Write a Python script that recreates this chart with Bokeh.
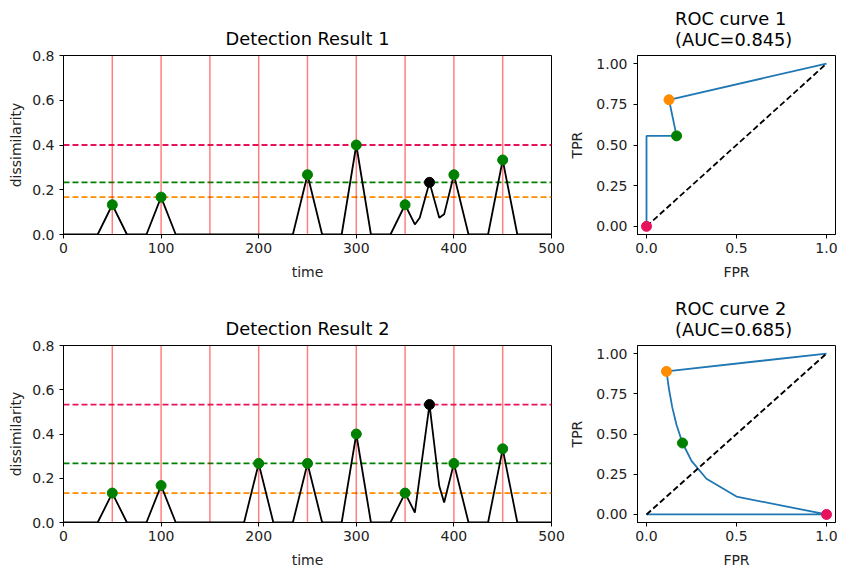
from bokeh.plotting import figure
from bokeh.layouts import column, row
from bokeh.models import Range1d, FixedTicker, PrintfTickFormatter, Span
from bokeh.embed import file_html
from bokeh.resources import INLINE

# ---------------- data ----------------
change_points = [50, 100, 150, 200, 250, 300, 350, 400, 450]

t1 = [0, 35, 50, 65, 85, 100, 115, 235, 250, 265, 285, 300, 315, 335, 350, 360, 365, 375, 385, 390, 400, 415, 435, 450, 465, 500]
v1 = [0, 0, 0.133, 0, 0, 0.167, 0, 0, 0.267, 0, 0, 0.4, 0, 0, 0.133, 0.045, 0.075, 0.233, 0.075, 0.09, 0.267, 0, 0, 0.333, 0, 0]
hit1_t = [50, 100, 250, 300, 350, 400, 450]
hit1_v = [0.133, 0.167, 0.267, 0.4, 0.133, 0.267, 0.333]
miss1_t = [375]
miss1_v = [0.233]
thr1 = [0.4, 0.233, 0.167]  # pink, green, orange

t2 = [0, 35, 50, 65, 85, 100, 115, 185, 200, 215, 235, 250, 265, 285, 300, 315, 335, 350, 360, 375, 385, 390, 400, 415, 435, 450, 465, 500]
v2 = [0, 0, 0.133, 0, 0, 0.167, 0, 0, 0.267, 0, 0, 0.267, 0, 0, 0.4, 0, 0, 0.133, 0.045, 0.533, 0.165, 0.09, 0.267, 0, 0, 0.333, 0, 0]
hit2_t = [50, 100, 200, 250, 300, 350, 400, 450]
hit2_v = [0.133, 0.167, 0.267, 0.267, 0.4, 0.133, 0.267, 0.333]
miss2_t = [375]
miss2_v = [0.533]
thr2 = [0.533, 0.267, 0.133]

roc1_fpr = [0, 0, 0.167, 0.125, 1]
roc1_tpr = [0, 0.556, 0.556, 0.778, 1]
roc1_pts_fpr = [0, 0.167, 0.125]   # pink, green, orange
roc1_pts_tpr = [0, 0.556, 0.778]
auc1 = 0.845

roc2_fpr = [0, 1, 0.5, 0.333, 0.25, 0.2, 0.167, 0.143, 0.125, 0.111, 1]
roc2_tpr = [0, 0, 0.111, 0.222, 0.333, 0.444, 0.556, 0.667, 0.778, 0.889, 1]
roc2_pts_fpr = [1, 0.2, 0.111]
roc2_pts_tpr = [0, 0.444, 0.889]
auc2 = 0.685

diag = [0, 1]

time_ticks = [0, 100, 200, 300, 400, 500]
dis_ticks = [0, 0.2, 0.4, 0.6, 0.8]
fpr_ticks = [0, 0.5, 1.0]
tpr_ticks = [0, 0.25, 0.5, 0.75, 1.0]

T_MIN, T_MAX = 0, 500
D_MIN, D_MAX = 0, 0.8

PINK = "#e8125c"
GREEN = "#008000"
ORANGE = "#ff8c00"
BLUE = "#1f77b4"
THR_COLORS = [PINK, GREEN, ORANGE]
FONT = "DejaVu Sans"
DASH = "6 3"


def style(p, xticks, yticks, xfmt, yfmt, xlabel, ylabel, ylab_standoff,
          ytick_standoff, title_standoff):
    p.xgrid.visible = False
    p.ygrid.visible = False
    p.outline_line_color = "black"
    p.outline_line_alpha = 1
    p.outline_line_width = 1
    p.title.text_font = FONT
    p.title.text_font_size = "17.8px"
    p.title.text_font_style = "normal"
    p.title.align = "center"
    p.title.text_color = "black"
    p.title.standoff = title_standoff
    p.title.text_line_height = 1.0
    p.xaxis.ticker = FixedTicker(ticks=xticks)
    p.yaxis.ticker = FixedTicker(ticks=yticks)
    p.xaxis.formatter = PrintfTickFormatter(format=xfmt)
    p.yaxis.formatter = PrintfTickFormatter(format=yfmt)
    p.xaxis.axis_label = xlabel
    p.yaxis.axis_label = ylabel
    for ax in (p.xaxis, p.yaxis):
        ax.axis_line_color = "black"
        ax.major_tick_line_color = "black"
        ax.major_tick_in = 0
        ax.major_tick_out = 4
        ax.minor_tick_line_color = None
        ax.major_label_text_font = FONT
        ax.major_label_text_font_size = "14px"
        ax.major_label_text_color = "#222222"
        ax.axis_label_text_font = FONT
        ax.axis_label_text_font_size = "14px"
        ax.axis_label_text_font_style = "normal"
        ax.axis_label_text_color = "#222222"
        ax.major_label_standoff = 4
    p.yaxis.major_label_standoff = ytick_standoff
    p.xaxis.axis_label_standoff = 8
    p.yaxis.axis_label_standoff = ylab_standoff


def detection(title, t, v, hit_t, hit_v, miss_t, miss_v, thr, height, top, bottom):
    p = figure(width=566, height=height, title=title, output_backend="svg",
               toolbar_location=None, x_range=Range1d(T_MIN, T_MAX),
               y_range=Range1d(D_MIN, D_MAX), min_border_left=63,
               min_border_right=15, min_border_top=top, min_border_bottom=bottom)
    style(p, time_ticks, dis_ticks, "%d", "%.1f", "time", "dissimilarity", 5, 5, 14)
    for val, col in zip(thr, THR_COLORS):
        p.add_layout(Span(location=val, dimension="width", line_color=col,
                          line_dash=DASH, line_width=1.8, level="underlay"))
    p.segment(x0=change_points, y0=[D_MIN] * len(change_points),
              x1=change_points, y1=[D_MAX] * len(change_points),
              line_color="red", line_alpha=0.5, line_width=1.5)
    p.line(t, v, line_color="black", line_width=1.8)
    p.scatter(hit_t, hit_v, size=10, fill_color=GREEN, line_color=GREEN)
    p.scatter(miss_t, miss_v, size=10, fill_color="black", line_color="black")
    return p


def roc(title, fpr, tpr, pf, pt, height, top, bottom):
    p = figure(width=276, height=height, title=title, output_backend="svg",
               toolbar_location=None, x_range=Range1d(-0.05, 1.05),
               y_range=Range1d(-0.05, 1.05), min_border_left=70,
               min_border_right=7, min_border_top=top, min_border_bottom=bottom)
    style(p, fpr_ticks, tpr_ticks, "%.1f", "%.2f", "FPR", "TPR", 8, 6, 11)
    p.line(fpr, tpr, line_color=BLUE, line_width=1.8)
    p.line(diag, diag, line_color="black", line_dash=DASH, line_width=1.8)
    p.scatter(pf, pt, size=10, fill_color=THR_COLORS, line_color=THR_COLORS)
    return p


p1 = detection("Detection Result 1", t1, v1, hit1_t, hit1_v, miss1_t, miss1_v, thr1, 290, 54, 56)
r1 = roc("ROC curve 1\n (AUC=%.3f)" % auc1, roc1_fpr, roc1_tpr, roc1_pts_fpr, roc1_pts_tpr, 290, 54, 56)
p2 = detection("Detection Result 2", t2, v2, hit2_t, hit2_v, miss2_t, miss2_v, thr2, 280, 54, 46)
r2 = roc("ROC curve 2\n (AUC=%.3f)" % auc2, roc2_fpr, roc2_tpr, roc2_pts_fpr, roc2_pts_tpr, 280, 54, 46)

layout = column(row(p1, r1), row(p2, r2))
open("out.html", "w").write(file_html(layout, INLINE))
